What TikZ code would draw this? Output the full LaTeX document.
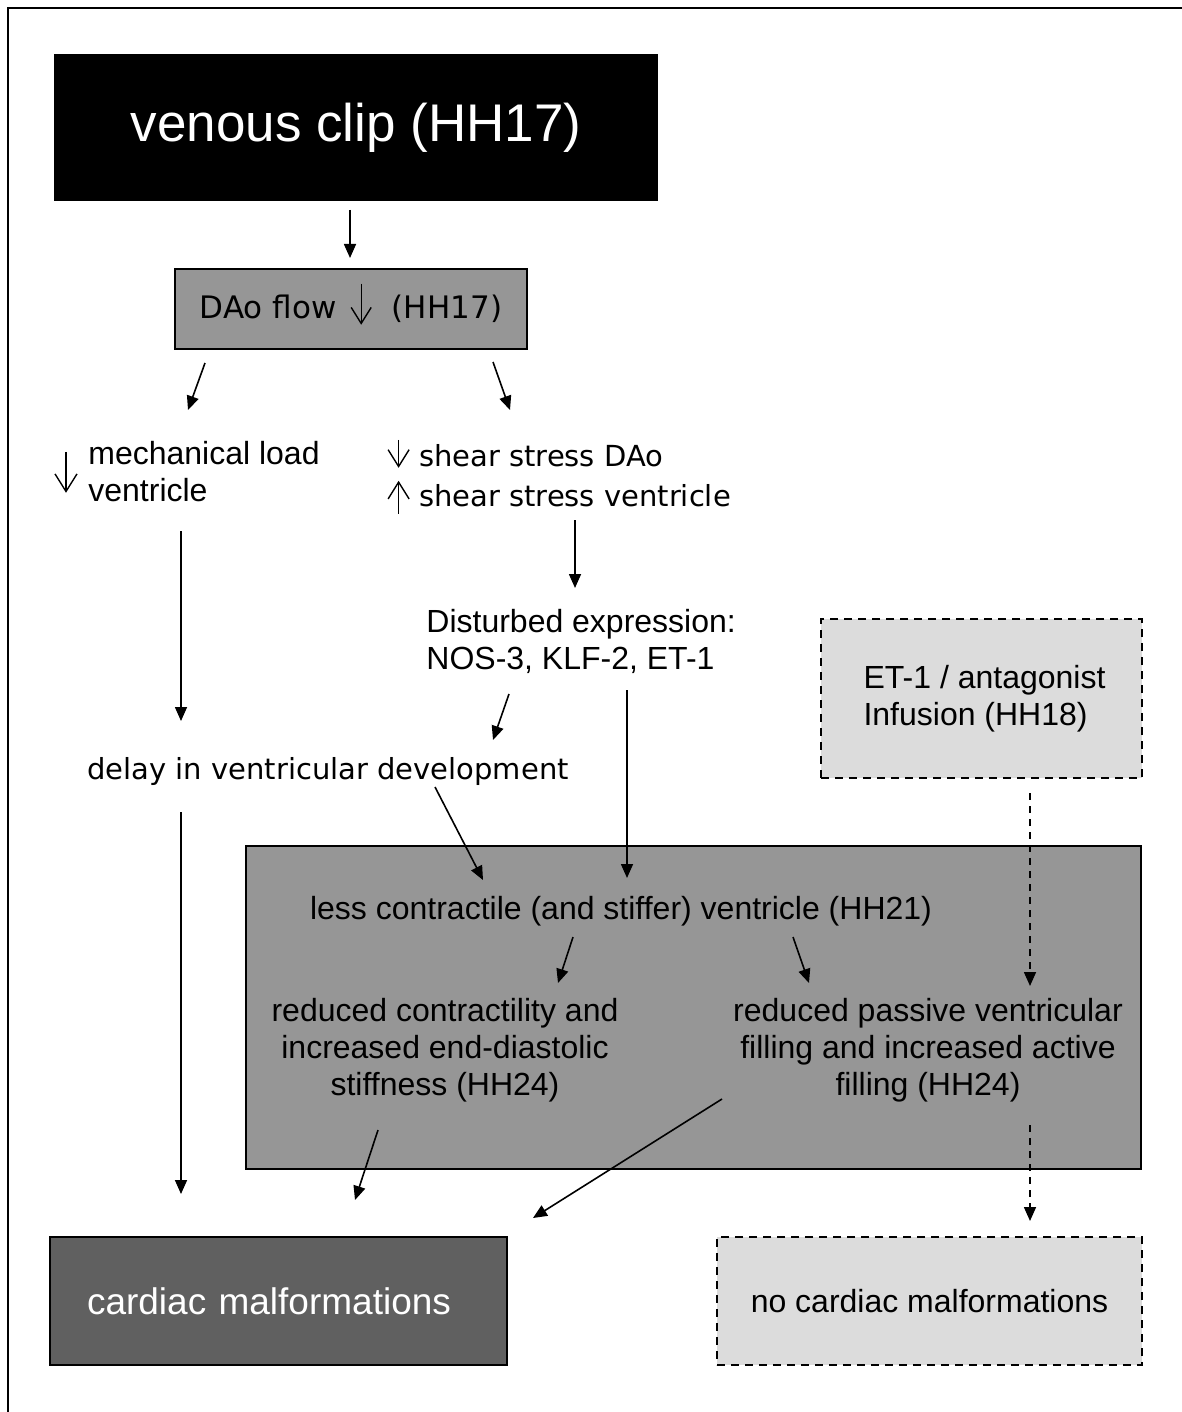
\documentclass[tikz,border=0pt]{standalone}
\usepackage{fontspec}
\setmainfont{Liberation Sans}
\newfontfamily\dv{DejaVu Sans}
\usetikzlibrary{arrows.meta}
\definecolor{gmid}{gray}{0.59}
\definecolor{gdark}{gray}{0.376}
\definecolor{glight}{gray}{0.863}
% inline arrow symbols: #1 bottom, #2 top (pt, relative to baseline), #3 head width
\newcommand\symdn[3]{\tikz[x=1pt,y=1pt,baseline=0pt]\draw[line width=0.7pt,
  -{Straight Barb[length=0.8*#3,width=#3,line width=0.7pt]}] (0,#2) -- (0,#1);}
\newcommand\symup[3]{\tikz[x=1pt,y=1pt,baseline=0pt]\draw[line width=0.7pt,
  -{Straight Barb[length=0.8*#3,width=#3,line width=0.7pt]}] (0,#1) -- (0,#2);}
\begin{document}
\begin{tikzpicture}[x=0.5pt,y=-0.5pt,
  arr/.style={draw,line width=0.8pt,-{Triangle[length=7pt,width=6pt]}},
  dasharr/.style={arr,dash pattern=on 3.5pt off 3pt},
  boxst/.style={draw,line width=0.8pt,inner sep=0pt},
  dashbox/.style={boxst,dash pattern=on 4pt off 3pt},
  txt/.style={inner sep=0pt,font=\fontsize{16}{18.4}\selectfont},
  vtxt/.style={inner sep=0pt,font=\dv\fontsize{14.5}{20}\selectfont}]
\useasboundingbox (0,0) rectangle (1182,1412);
\fill[white] (0,0) rectangle (1182,1412);
\draw[line width=1pt] (8,1412) -- (8,8) -- (1182,8);

% boxes
\node[boxst,fill=black,text=white,minimum width=301pt,minimum height=72.5pt,
  font=\fontsize{26.5}{30}\selectfont] (clip) at (356,127.5) {venous clip (HH17)};
\node[boxst,fill=gmid,minimum width=176pt,minimum height=40pt,
  font=\dv\fontsize{15.5}{18}\selectfont] (dao) at (351,309)
  {DAo flow\hspace{7pt}\smash{\symdn{-3pt}{17.5pt}{10pt}}\hspace{10pt}(HH17)};
\node[boxst,fill=gmid,minimum width=447.5pt,minimum height=161.5pt] (big) at (693.5,1007.5) {};
\node[dashbox,fill=glight,minimum width=160.5pt,minimum height=79.5pt,align=left,
  font=\fontsize{16}{18.4}\selectfont] (et) at (981.5,698.5) {\hspace*{3pt}ET-1 / antagonist\\\hspace*{3pt}Infusion (HH18)};
\node[boxst,fill=gdark,text=white,minimum width=228.5pt,minimum height=64pt,
  text width=191.5pt,inner xsep=18.5pt,align=left,
  font=\fontsize{18.5}{21}\selectfont] (cm) at (278.5,1301) {cardiac malformations};
\node[dashbox,fill=glight,minimum width=212.5pt,minimum height=64pt,
  font=\fontsize{16}{18.4}\selectfont] (ncm) at (929.5,1301) {no cardiac malformations};

% text nodes
\node[inner sep=0pt] (mlarrow) at (66,472.5) {\symdn{0pt}{20.5pt}{11pt}};
\node[txt,anchor=west,align=left] (ml) at (88,471.5) {mechanical load\\ventricle};
\node[vtxt,anchor=west,align=left] (shear) at (387,476)
  {\smash{\symdn{-0.5pt}{13.5pt}{10.5pt}}\ shear stress DAo\\\smash{\symup{-3.5pt}{13pt}{10.5pt}}\ shear stress ventricle};
\node[txt,anchor=west,align=left] (dist) at (426,641.5) {Disturbed expression:\\NOS-3, KLF-2, ET-1};
\node[vtxt] (delay) at (328,771) {delay in ventricular development};
\node[txt] (less) at (621,911) {less contractile (and stiffer) ventricle (HH21)};
\node[txt,align=center] (rc) at (445,1050.5) {reduced contractility and\\increased end-diastolic\\stiffness (HH24)};
\node[txt,align=center] (rp) at (928,1050.5) {reduced passive ventricular\\filling and increased active\\filling (HH24)};

% connector end points
\coordinate (a1s) at (350,210);  \coordinate (a1e) at (350,258);
\coordinate (a2s) at (205,363);  \coordinate (a2e) at (188,410);
\coordinate (a3s) at (493,362);  \coordinate (a3e) at (510,410);
\coordinate (a4s) at (575,520);  \coordinate (a4e) at (575,588);
\coordinate (a5s) at (181,531);  \coordinate (a5e) at (181,721);
\coordinate (a6s) at (509,694);  \coordinate (a6e) at (493,740);
\coordinate (a7s) at (627,690);  \coordinate (a7e) at (627,878);
\coordinate (a8s) at (435,787);  \coordinate (a8e) at (483,880);
\coordinate (a9s) at (181,812);  \coordinate (a9e) at (181,1194);
\coordinate (a10s) at (573,937); \coordinate (a10e) at (558,983);
\coordinate (a11s) at (793,937); \coordinate (a11e) at (809,983);
\coordinate (a12s) at (378,1130);\coordinate (a12e) at (355,1200);
\coordinate (a13s) at (722,1099);\coordinate (a13e) at (533,1218);
\coordinate (d1s) at (1030,793); \coordinate (d1e) at (1030,986);
\coordinate (d2s) at (1030,1125);\coordinate (d2e) at (1030,1221);

\draw[arr] (a1s) -- (a1e);
\draw[arr] (a2s) -- (a2e);
\draw[arr] (a3s) -- (a3e);
\draw[arr] (a4s) -- (a4e);
\draw[arr] (a5s) -- (a5e);
\draw[arr] (a6s) -- (a6e);
\draw[arr] (a7s) -- (a7e);
\draw[arr] (a8s) -- (a8e);
\draw[arr] (a9s) -- (a9e);
\draw[arr] (a10s) -- (a10e);
\draw[arr] (a11s) -- (a11e);
\draw[arr] (a12s) -- (a12e);
\draw[arr] (a13s) -- (a13e);
\draw[dasharr] (d1s) -- (d1e);
\draw[dasharr] (d2s) -- (d2e);
\end{tikzpicture}
\end{document}
